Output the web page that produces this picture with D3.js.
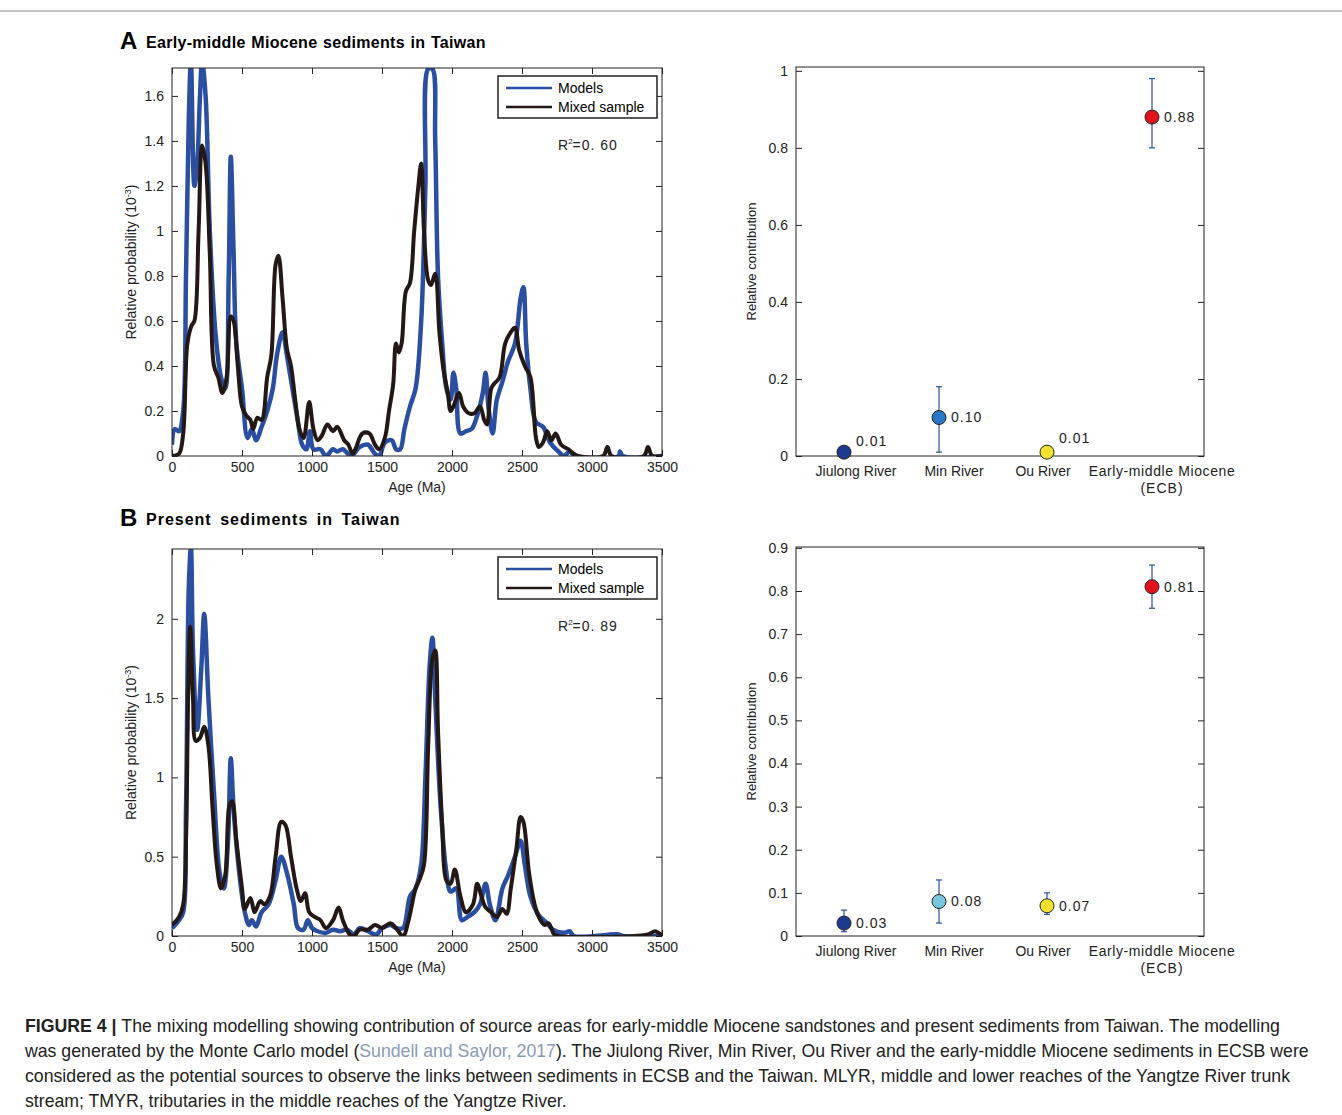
<!DOCTYPE html>
<html><head><meta charset="utf-8">
<script src="https://cdn.jsdelivr.net/npm/d3@7"></script>
<style>body{margin:0;background:#fff;font-family:"Liberation Sans",Arial,sans-serif}</style>
</head><body><svg id="c" width="1342" height="1115"></svg>
<script>
const xTicks=[0,500,1000,1500,2000,2500,3000,3500];
const aModels=[[0,0.05],[20,0.12],[50,0.11],[80,0.2],[100,0.8],[120,1.5],[135,1.75],[160,1.2],[180,1.3],[200,1.6],[215,1.75],[240,1.6],[270,1.0],[310,0.55],[350,0.35],[380,0.3],[405,0.8],[420,1.33],[440,0.9],[460,0.5],[500,0.3],[540,0.08],[570,0.12],[600,0.07],[640,0.13],[680,0.2],[720,0.3],[750,0.45],[790,0.55],[820,0.45],[860,0.3],[900,0.15],[930,0.05],[960,0.03],[985,0.11],[1010,0.03],[1060,0.03],[1100,0],[1150,0.03],[1180,0.02],[1220,0.03],[1280,0],[1340,0.04],[1400,0.05],[1450,0.01],[1480,0],[1520,0.06],[1570,0.07],[1600,0.03],[1630,0.03],[1660,0.12],[1700,0.22],[1740,0.3],[1780,0.6],[1810,1.2],[1830,1.72],[1860,1.72],[1880,1.4],[1900,0.8],[1930,0.5],[1960,0.3],[1990,0.25],[2010,0.37],[2030,0.3],[2060,0.1],[2100,0.11],[2140,0.12],[2180,0.18],[2220,0.28],[2240,0.37],[2260,0.22],[2290,0.1],[2320,0.25],[2360,0.33],[2400,0.42],[2450,0.5],[2490,0.7],[2510,0.75],[2530,0.5],[2560,0.3],[2600,0.15],[2650,0.13],[2700,0.06],[2760,0.02],[2800,0],[2840,0.02],[2880,0],[3190,0],[3200,0.02],[3220,0],[3500,0]];
const aMixed=[[0,0],[50,0.01],[80,0.1],[110,0.5],[140,0.58],[160,0.6],[190,1.0],[215,1.38],[240,1.3],[270,0.9],[300,0.4],[330,0.35],[360,0.28],[390,0.35],[420,0.62],[440,0.6],[470,0.4],[500,0.22],[530,0.18],[560,0.16],[580,0.12],[610,0.17],[640,0.16],[680,0.35],[710,0.45],[740,0.85],[760,0.89],[790,0.7],[820,0.48],[850,0.4],[880,0.25],[910,0.12],[940,0.08],[980,0.24],[1010,0.12],[1040,0.07],[1070,0.09],[1110,0.14],[1150,0.11],[1180,0.13],[1230,0.07],[1260,0.05],[1290,0.01],[1310,0.03],[1360,0.1],[1410,0.1],[1450,0.05],[1480,0.03],[1520,0.08],[1550,0.2],[1580,0.32],[1600,0.5],[1620,0.46],[1640,0.5],[1670,0.73],[1700,0.77],[1730,1.0],[1760,1.2],[1780,1.3],[1800,1.0],[1830,0.78],[1850,0.76],[1880,0.81],[1910,0.55],[1940,0.38],[1970,0.28],[1990,0.2],[2010,0.22],[2050,0.28],[2080,0.22],[2120,0.19],[2160,0.19],[2200,0.22],[2230,0.16],[2250,0.14],[2280,0.3],[2300,0.32],[2340,0.35],[2380,0.5],[2420,0.55],[2450,0.57],[2480,0.47],[2520,0.4],[2560,0.35],[2600,0.08],[2620,0.04],[2650,0.06],[2680,0.11],[2710,0.07],[2740,0.1],[2780,0.05],[2830,0.03],[2870,0.01],[2900,0],[3080,0],[3110,0.04],[3140,0],[3370,0],[3400,0.04],[3430,0],[3500,0]];
const bModels=[[0,0.05],[50,0.1],[80,0.15],[100,0.8],[120,2.2],[135,2.45],[150,1.8],[180,1.3],[210,1.7],[230,2.03],[260,1.5],[300,0.9],[340,0.4],[370,0.3],[400,0.6],[420,1.12],[440,0.8],[480,0.4],[520,0.15],[550,0.07],[570,0.1],[600,0.06],[640,0.15],[690,0.2],[740,0.35],[780,0.5],[820,0.4],[870,0.2],[900,0.05],[940,0.04],[970,0.1],[1000,0.05],[1040,0.03],[1100,0.02],[1150,0.04],[1200,0.03],[1250,0.04],[1300,0.01],[1340,0.05],[1400,0.03],[1460,0.01],[1500,0.05],[1560,0.07],[1600,0.05],[1650,0.05],[1700,0.25],[1740,0.3],[1780,0.45],[1810,1.0],[1840,1.7],[1860,1.88],[1880,1.5],[1920,0.8],[1960,0.4],[1990,0.28],[2030,0.3],[2070,0.1],[2110,0.12],[2160,0.15],[2200,0.2],[2240,0.33],[2270,0.2],[2310,0.1],[2360,0.3],[2400,0.38],[2450,0.5],[2490,0.6],[2520,0.45],[2560,0.25],[2620,0.13],[2680,0.08],[2720,0.04],[2800,0.02],[2840,0.03],[2870,0],[3190,0.01],[3220,0],[3500,0]];
const bMixed=[[0,0.07],[50,0.12],[80,0.2],[100,0.6],[115,1.5],[130,1.95],[150,1.5],[170,1.23],[200,1.25],[230,1.32],[260,1.2],[290,0.8],[320,0.45],[350,0.3],[380,0.38],[410,0.82],[430,0.85],[460,0.6],[500,0.3],[520,0.17],[560,0.24],[590,0.15],[630,0.22],[660,0.2],[700,0.25],[740,0.5],[780,0.72],[810,0.7],[850,0.5],[890,0.3],[920,0.22],[950,0.27],[980,0.15],[1020,0.12],[1060,0.1],[1100,0.05],[1150,0.1],[1190,0.18],[1220,0.1],[1270,0.01],[1300,0],[1340,0.04],[1400,0.04],[1450,0.07],[1500,0.05],[1560,0.08],[1600,0.05],[1650,0],[1690,0.1],[1740,0.3],[1770,0.36],[1800,0.45],[1830,1.2],[1860,1.75],[1880,1.8],[1900,1.3],[1930,0.7],[1960,0.35],[1990,0.33],[2020,0.42],[2060,0.25],[2100,0.15],[2150,0.2],[2180,0.33],[2210,0.25],[2240,0.18],[2280,0.15],[2320,0.12],[2360,0.17],[2390,0.14],[2420,0.3],[2460,0.55],[2490,0.75],[2510,0.72],[2550,0.4],[2590,0.2],[2620,0.12],[2660,0.07],[2690,0.08],[2730,0.01],[2760,0],[3400,0.01],[3450,0.03],[3490,0.01],[3500,0]];
const sources=["Jiulong River","Min River","Ou River","Early-middle  Miocene"];
const aContrib=[0.01,0.10,0.01,0.88];
const aLow=[0.005,0.01,0.005,0.80];
const aHigh=[0.02,0.18,0.02,0.98];
const bContrib=[0.03,0.08,0.07,0.81];
const bLow=[0.01,0.03,0.05,0.76];
const bHigh=[0.06,0.13,0.10,0.86];
const aColors=["#1d3a8c","#2a78c4","#f2e22b","#e3131b"];
const bColors=["#1d3a8c","#79c6df","#f2e22b","#e3131b"];

const svg=d3.select("#c");
svg.append("line").attr("x1",0).attr("x2",1342).attr("y1",11).attr("y2",11).attr("stroke","#888");

function frameAxes(g,x,y,xt,yt,yfmt,w,h){
  g.append("g").attr("transform",`translate(0,${h})`).call(d3.axisBottom(x).tickValues(xt).tickSizeInner(-6).tickSizeOuter(0).tickPadding(6).tickFormat(d3.format("d")));
  g.append("g").call(d3.axisTop(x).tickValues(xt).tickSizeInner(-6).tickSizeOuter(0).tickFormat(""));
  g.append("g").call(d3.axisLeft(y).tickValues(yt).tickSizeInner(-6).tickSizeOuter(0).tickPadding(8).tickFormat(yfmt));
  g.append("g").attr("transform",`translate(${w},0)`).call(d3.axisRight(y).tickValues(yt).tickSizeInner(-6).tickSizeOuter(0).tickFormat(""));
  g.append("rect").attr("width",w).attr("height",h).attr("fill","none").attr("stroke","#222");
  g.selectAll(".tick text").attr("font-size",14).attr("font-family","Liberation Sans, Arial").attr("fill","#222");
  g.selectAll(".domain").remove();
  g.selectAll(".tick line").attr("stroke","#222");
}

function density(top,models,mixed,ymax,yt,r2){
  const L=172,W=490; const h=(top===68?456:936)-top;
  const g=svg.append("g").attr("transform",`translate(${L},${top})`);
  const x=d3.scaleLinear().domain([0,3500]).range([0,W]);
  const y=d3.scaleLinear().domain([0,ymax]).range([h,0]);
  const clip="cl"+top;
  g.append("clipPath").attr("id",clip).append("rect").attr("width",W).attr("height",h);
  const line=d3.line().x(d=>x(d[0])).y(d=>y(d[1])).curve(d3.curveCatmullRom);
  g.append("path").datum(models).attr("d",line).attr("fill","none").attr("stroke","#2a4fa0").attr("stroke-width",4.5).attr("clip-path",`url(#${clip})`);
  g.append("path").datum(mixed).attr("d",line).attr("fill","none").attr("stroke","#231815").attr("stroke-width",4).attr("clip-path",`url(#${clip})`);
  frameAxes(g,x,y,xTicks,yt,d=>d3.format("")(d),W,h);
  g.append("text").attr("x",W/2).attr("y",h+36).attr("text-anchor","middle").attr("font-size",14).attr("fill","#222").text("Age (Ma)");
  const yl=g.append("text").attr("transform",`translate(-36,${h/2}) rotate(-90)`).attr("text-anchor","middle").attr("font-size",14).attr("fill","#222");
  yl.append("tspan").text("Relative probability  (10");
  yl.append("tspan").attr("font-size",9).attr("dy",-5).text("-3");
  yl.append("tspan").attr("dy",5).text(")");
  const lg=g.append("g").attr("transform",`translate(326,8)`);
  lg.append("rect").attr("width",159).attr("height",42).attr("fill","#fff").attr("stroke","#222").attr("stroke-width",1.5);
  lg.append("line").attr("x1",8).attr("x2",54).attr("y1",12).attr("y2",12).attr("stroke","#2a4fa0").attr("stroke-width",2.5);
  lg.append("line").attr("x1",8).attr("x2",54).attr("y1",31).attr("y2",31).attr("stroke","#231815").attr("stroke-width",2.5);
  lg.append("text").attr("x",60).attr("y",17).attr("font-size",14).text("Models");
  lg.append("text").attr("x",60).attr("y",36).attr("font-size",14).text("Mixed sample");
  const rt=g.append("text").attr("x",386).attr("y",82).attr("font-size",14).attr("fill","#222");
  rt.append("tspan").text("R");rt.append("tspan").attr("font-size",8).attr("dy",-6).text("2");
  rt.append("tspan").attr("dy",6).attr("letter-spacing",1).text("=0. "+r2);
}

function contrib(top,bottom,ymax,yt,vals,lo,hi,cols){
  const L=796,W=408,h=bottom-top;
  const g=svg.append("g").attr("transform",`translate(${L},${top})`);
  const xs=[48,143,251,356];
  const y=d3.scaleLinear().domain([0,ymax]).range([h,0]);
  frameAxes(g,d3.scaleLinear().domain([0,1]).range([0,W]),y,[],yt,d=>d===1?"1":d3.format("")(d),W,h);
  const lx=[60,158,247,366];
  sources.forEach((s,i)=>{
    g.append("text").attr("x",lx[i]).attr("y",h+20).attr("text-anchor","middle").attr("font-size",14).attr("fill","#222").attr("letter-spacing",i==3?0.6:0).text(s);
    if(i==3) g.append("text").attr("x",366).attr("y",h+37).attr("text-anchor","middle").attr("font-size",14).attr("fill","#222").attr("letter-spacing",1).text("(ECB)");
  });
  vals.forEach((v,i)=>{
    const cx=xs[i];
    g.append("line").attr("x1",cx).attr("x2",cx).attr("y1",y(lo[i])).attr("y2",y(hi[i])).attr("stroke","#2a4fa0").attr("stroke-width",1.2);
    [lo[i],hi[i]].forEach(e=>g.append("line").attr("x1",cx-3).attr("x2",cx+3).attr("y1",y(e)).attr("y2",y(e)).attr("stroke","#2a4fa0").attr("stroke-width",1.2));
    g.append("circle").attr("cx",cx).attr("cy",y(v)).attr("r",7).attr("fill",cols[i]).attr("stroke","#222").attr("stroke-width",1);
    g.append("text").attr("x",cx+12).attr("y",y(v)+(i==0&&top<100?-6:(i==2&&top<100?-9:5))).attr("font-size",14).attr("letter-spacing",1).attr("fill","#222").text(v.toFixed(2));
  });
  g.append("text").attr("transform",`translate(-40,${h/2}) rotate(-90)`).attr("text-anchor","middle").attr("font-size",13).attr("fill","#222").text("Relative contribution");
}

density(68,aModels,aMixed,1.724,[0,0.2,0.4,0.6,0.8,1,1.2,1.4,1.6],"60");
density(549,bModels,bMixed,2.44,[0,0.5,1,1.5,2],"89");
contrib(67,456,1.01,[0,0.2,0.4,0.6,0.8,1],aContrib,aLow,aHigh,aColors);
contrib(547,936,0.902,[0,0.1,0.2,0.3,0.4,0.5,0.6,0.7,0.8,0.9],bContrib,bLow,bHigh,bColors);

function title(y,letter,txt,ls){
  svg.append("text").attr("x",120).attr("y",y).attr("font-size",24).attr("font-weight","bold").text(letter);
  svg.append("text").attr("x",146).attr("y",y-1).attr("font-size",16).attr("font-weight","bold").attr("letter-spacing",ls).attr("word-spacing",ls*3).text(txt);
}
title(49,"A","Early-middle Miocene sediments in Taiwan",0.3);
title(526,"B","Present sediments in Taiwan",1);

const cap=svg.append("g").attr("font-size",17.7).attr("fill","#222");
const l1=cap.append("text").attr("x",25).attr("y",1032);
l1.append("tspan").attr("font-weight","bold").text("FIGURE 4 | ");
l1.append("tspan").text("The mixing modelling showing contribution of source areas for early-middle Miocene sandstones and present sediments from Taiwan. The modelling");
const l2=cap.append("text").attr("x",25).attr("y",1057);
l2.append("tspan").text("was generated by the Monte Carlo model (");
l2.append("tspan").attr("fill","#8a9bb5").text("Sundell and Saylor, 2017");
l2.append("tspan").text("). The Jiulong River, Min River, Ou River and the early-middle Miocene sediments in ECSB were");
cap.append("text").attr("x",25).attr("y",1082).text("considered as the potential sources to observe the links between sediments in ECSB and the Taiwan. MLYR, middle and lower reaches of the Yangtze River trunk");
cap.append("text").attr("x",25).attr("y",1107).text("stream; TMYR, tributaries in the middle reaches of the Yangtze River.");
</script></body></html>
